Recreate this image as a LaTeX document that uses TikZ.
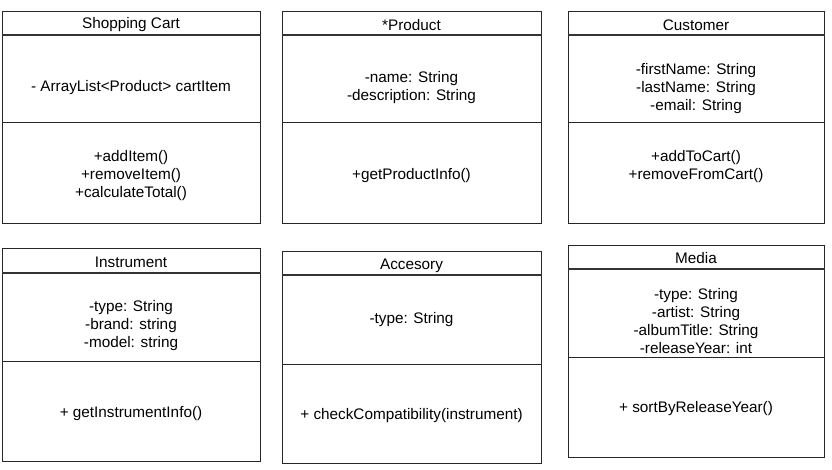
\documentclass[tikz,border=0pt]{standalone}
\usepackage{fontspec}
\setmainfont{Liberation Sans}
\begin{document}
\begin{tikzpicture}[x=1pt,y=-1pt,
  box/.style={draw=black!85, line width=1pt, inner sep=0pt, anchor=north west, fill=white},
  txt/.style={font=\fontsize{15.3}{18}\selectfont, align=center, inner sep=0pt, text=black, yshift=-1.5pt},
  hdr/.style={draw=black!80, line width=1.7pt},
  sep/.style={draw=black!85, line width=1pt}]
\useasboundingbox (0,0) rectangle (832,470);
% ---------- Shopping Cart ----------
\node[box, minimum width=258pt, minimum height=212pt] (cart) at (2,11) {};
\draw[hdr] ([yshift=-24pt]cart.north west) -- ([yshift=-24pt]cart.north east);
\draw[sep] ([yshift=-112pt]cart.north west) -- ([yshift=-112pt]cart.north east);
\node[txt] (cartT) at (131,23.5) {Shopping Cart};
\node[txt] (cartA) at (131,86) {- ArrayList<Product> cartItem};
\node[txt] (cartM) at (131,174) {+addItem()\\+removeItem()\\+calculateTotal()};
% ---------- Product ----------
\node[box, minimum width=259pt, minimum height=212pt] (prod) at (282,11) {};
\draw[hdr] ([yshift=-24pt]prod.north west) -- ([yshift=-24pt]prod.north east);
\draw[sep] ([yshift=-112pt]prod.north west) -- ([yshift=-112pt]prod.north east);
\node[txt] (prodT) at (411.5,23.5) {*Product};
\node[txt] (prodA) at (411.5,86.5) {-name: String\\-description: String};
\node[txt] (prodM) at (411.5,174) {+getProductInfo()};
% ---------- Customer ----------
\node[box, minimum width=256pt, minimum height=212pt] (cust) at (568,11) {};
\draw[hdr] ([yshift=-24pt]cust.north west) -- ([yshift=-24pt]cust.north east);
\draw[sep] ([yshift=-112pt]cust.north west) -- ([yshift=-112pt]cust.north east);
\node[txt] (custT) at (696,23.5) {Customer};
\node[txt] (custA) at (696,87) {-firstName: String\\-lastName: String\\-email: String};
\node[txt] (custM) at (696,165) {+addToCart()\\+removeFromCart()};
% ---------- Instrument ----------
\node[box, minimum width=258pt, minimum height=213pt] (inst) at (2,248) {};
\draw[hdr] ([yshift=-25pt]inst.north west) -- ([yshift=-25pt]inst.north east);
\draw[sep] ([yshift=-113pt]inst.north west) -- ([yshift=-113pt]inst.north east);
\node[txt] (instT) at (131,261) {Instrument};
\node[txt] (instA) at (131,324) {-type: String\\-brand: string\\-model: string};
\node[txt] (instM) at (131,412) {+ getInstrumentInfo()};
% ---------- Accesory ----------
\node[box, minimum width=259pt, minimum height=212pt] (acc) at (282,251) {};
\draw[hdr] ([yshift=-24pt]acc.north west) -- ([yshift=-24pt]acc.north east);
\draw[sep] ([yshift=-113pt]acc.north west) -- ([yshift=-113pt]acc.north east);
\node[txt] (accT) at (411.5,264) {Accesory};
\node[txt] (accA) at (411.5,318) {-type: String};
\node[txt] (accM) at (411.5,414) {+ checkCompatibility(instrument)};
% ---------- Media ----------
\node[box, minimum width=256pt, minimum height=212pt] (med) at (568,245) {};
\draw[hdr] ([yshift=-24pt]med.north west) -- ([yshift=-24pt]med.north east);
\draw[sep] ([yshift=-112pt]med.north west) -- ([yshift=-112pt]med.north east);
\node[txt] (medT) at (696,257) {Media};
\node[txt] (medA) at (696,320) {-type: String\\-artist: String\\-albumTitle: String\\-releaseYear: int};
\node[txt] (medM) at (696,407) {+ sortByReleaseYear()};
\end{tikzpicture}
\end{document}
